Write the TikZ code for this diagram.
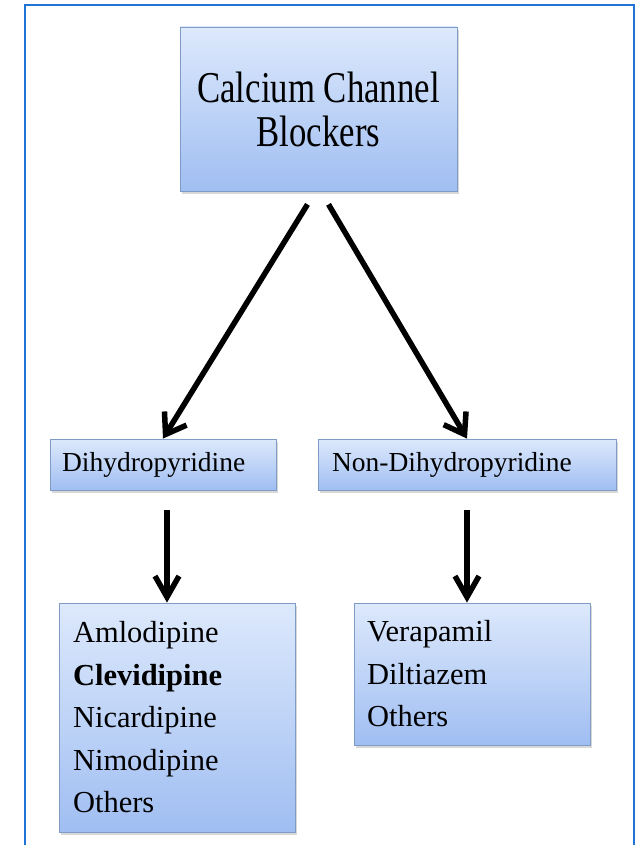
\documentclass[tikz,border=0pt]{standalone}
\usepackage{fontspec}
\setmainfont{Liberation Serif}
\newfontfamily\tallserif[FakeStretch=0.79]{Liberation Serif}
\usepackage{tikz}
\usetikzlibrary{shapes,calc,positioning}
\usetikzlibrary{arrows.meta,shadows}
\definecolor{frameblue}{HTML}{1F74D6}
\definecolor{boxtop}{HTML}{DDE9FC}
\definecolor{boxbottom}{HTML}{A0BEF2}
\definecolor{boxline}{HTML}{7F9CC6}

\begin{document}
\begin{tikzpicture}%
  [x=1pt, y=-1pt, text=black,
   bluebox/.style={rectangle, draw=boxline, line width=0.8pt,
     top color=boxtop, bottom color=boxbottom, inner sep=0pt,
     drop shadow={shadow xshift=2pt, shadow yshift=-3pt, fill=black!30}},
   thickarrow/.style={-{Straight Barb[length=19pt,width=26pt]}, line width=5.5pt}]

  \useasboundingbox (0,0) rectangle (641,845);
  \draw[frameblue, line width=2.5pt] (25,846) -- (25,5) -- (634,5) -- (634,846);

  \node (CCB) at (318.5,109) [bluebox, minimum width=277, minimum height=164,
        align=center, font=\tallserif\fontsize{44}{44}\selectfont]
        {Calcium Channel\\Blockers};

  \node (DHP) at (163,464.5) [bluebox, minimum width=226, minimum height=51,
        text width=202, align=left, font=\fontsize{27.5}{33}\selectfont]
        {Dihydropyridine};
  \node (NDHP) at (467,464.5) [bluebox, minimum width=298, minimum height=51,
        text width=270, align=left, font=\fontsize{27.5}{33}\selectfont]
        {Non-Dihydropyridine};

  \node (DHPlist) at (177,717.5) [bluebox, minimum width=236, minimum height=229,
        text width=208, align=left, font=\fontsize{30.5}{42.5}\selectfont]
        {Amlodipine\\\textbf{Clevidipine}\\Nicardipine\\Nimodipine\\Others};
  \node (NDHPlist) at (472,674) [bluebox, minimum width=236, minimum height=142,
        text width=210, align=left, font=\fontsize{30.5}{42.5}\selectfont]
        {Verapamil\\Diltiazem\\Others};

  \draw[thickarrow] ($(CCB.south)+(-11,13)$) -- (DHP.north);
  \draw[thickarrow] ($(CCB.south)+(10,13)$) -- (NDHP.north);

  \coordinate (dhpdown) at ($(DHP.south)+(4,20)$);
  \coordinate (ndhpdown) at ($(NDHP.south)+(0,20)$);
  \draw[thickarrow, -{Straight Barb[length=21pt,width=24pt]}]
        (dhpdown) -- (dhpdown |- DHPlist.north);
  \draw[thickarrow, -{Straight Barb[length=21pt,width=24pt]}]
        (ndhpdown) -- (ndhpdown |- NDHPlist.north);

\end{tikzpicture}
\end{document}
